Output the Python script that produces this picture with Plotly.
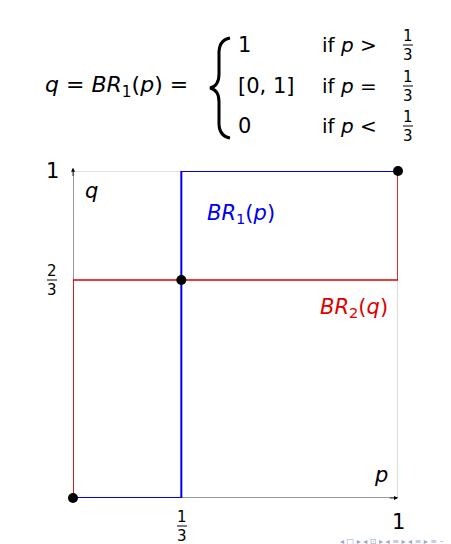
import plotly.graph_objects as go

W, H = 451, 544
L, R, T, B = 65, 390, 163, 490

br1_p = [0, 1/3, 1/3, 1]
br1_q = [0, 0, 1, 1]
br2_p = [0, 0, 1, 1]
br2_q = [0, 2/3, 2/3, 1]
eq_p = [0, 1/3, 1]
eq_q = [0, 2/3, 1]

def xp(px): return (px - L) / (R - L)
def yp(py): return (B - py) / (B - T)

FONT = "DejaVu Sans"
fig = go.Figure()
fig.add_trace(go.Scatter(x=[0, 1, 1], y=[1, 1, 0], mode="lines", line=dict(color="#c8c8c8", width=1.2), hoverinfo="skip"))
fig.add_trace(go.Scatter(x=[0, 0, None, 0, 1], y=[0, 1.01, None, 0, 0], mode="lines", line=dict(color="black", width=0.8), hoverinfo="skip"))
fig.add_trace(go.Scatter(x=br2_p, y=br2_q, mode="lines", line=dict(color="#e00000", width=1.6)))
fig.add_trace(go.Scatter(x=br1_p, y=br1_q, mode="lines", line=dict(color="#0000ee", width=2)))
fig.add_trace(go.Scatter(x=eq_p, y=eq_q, mode="markers", marker=dict(color="black", size=10), cliponaxis=False))

ann = []
shapes = []
def txt(px, py, s, size=20, color="black", xanchor="center"):
    ann.append(dict(x=xp(px), y=yp(py), xref="paper", yref="paper", text=s, showarrow=False,
                    font=dict(size=size, color=color, family=FONT), xanchor=xanchor, yanchor="middle"))
def frac(px, py, num, den, size=15, w=10):
    txt(px, py - 9, num, size)
    txt(px, py + 10, den, size)
    shapes.append(dict(type="line", xref="paper", yref="paper", x0=xp(px - w/2), x1=xp(px + w/2),
                       y0=yp(py), y1=yp(py), line=dict(color="black", width=1)))

# arrowheads
ann.append(dict(x=0, y=1.01, ax=0, ay=0.98, xref="x", yref="y", axref="x", ayref="y", showarrow=True,
                arrowhead=2, arrowsize=1, arrowwidth=0.8, arrowcolor="black", text=""))
ann.append(dict(x=1.0, y=0, ax=0.97, ay=0, xref="x", yref="y", axref="x", ayref="y", showarrow=True,
                arrowhead=2, arrowsize=1, arrowwidth=0.8, arrowcolor="black", text=""))

# equation
txt(108, 78, "<i>q</i> = <i>BR</i><sub>1</sub>(<i>p</i>) =", 22)
shapes.append(dict(type="path", xref="paper", yref="paper",
    path=f"M {xp(222)},{yp(30)} Q {xp(210)},{yp(32)} {xp(211)},{yp(48)} L {xp(211)},{yp(66)} "
         f"Q {xp(211)},{yp(78)} {xp(202)},{yp(80)} Q {xp(211)},{yp(82)} {xp(211)},{yp(94)} "
         f"L {xp(211)},{yp(112)} Q {xp(210)},{yp(128)} {xp(222)},{yp(130)}",
    line=dict(color="black", width=3)))
txt(228, 37, "1", 21, xanchor="left")
txt(228, 78, "[0, 1]", 21, xanchor="left")
txt(228, 118, "0", 21, xanchor="left")
txt(312, 37, "if <i>p</i> >", 20, xanchor="left")
txt(312, 78, "if <i>p</i> =", 20, xanchor="left")
txt(312, 118, "if <i>p</i> <", 20, xanchor="left")
for py in (37, 78, 118):
    frac(400, py, "1", "3")

# chart labels
txt(233, 206, "<i>BR</i><sub>1</sub>(<i>p</i>)", 21, "#0000ee")
txt(346, 300, "<i>BR</i><sub>2</sub>(<i>q</i>)", 21, "#e00000")
txt(83, 183, "<i>q</i>", 21)
txt(373, 467, "<i>p</i>", 21)
txt(44, 163, "1", 21)
txt(391, 514, "1", 21)
frac(44, 272, "2", "3")
frac(174, 518, "1", "3")
txt(388, 533, "◂ □ ▸ ◂ ⊡ ▸ ◂ ≡ ▸ ◂ ≡ ▸ ≡ ∽∾", 8, "#9aa6d0", xanchor="center")

fig.update_layout(width=W, height=H, margin=dict(l=L, r=W - R, t=T, b=H - B, autoexpand=False),
                  plot_bgcolor="white", paper_bgcolor="white", showlegend=False,
                  xaxis=dict(range=[0, 1], visible=False, fixedrange=True),
                  yaxis=dict(range=[0, 1], visible=False, fixedrange=True),
                  annotations=ann, shapes=shapes)
fig.write_html("out.html")
